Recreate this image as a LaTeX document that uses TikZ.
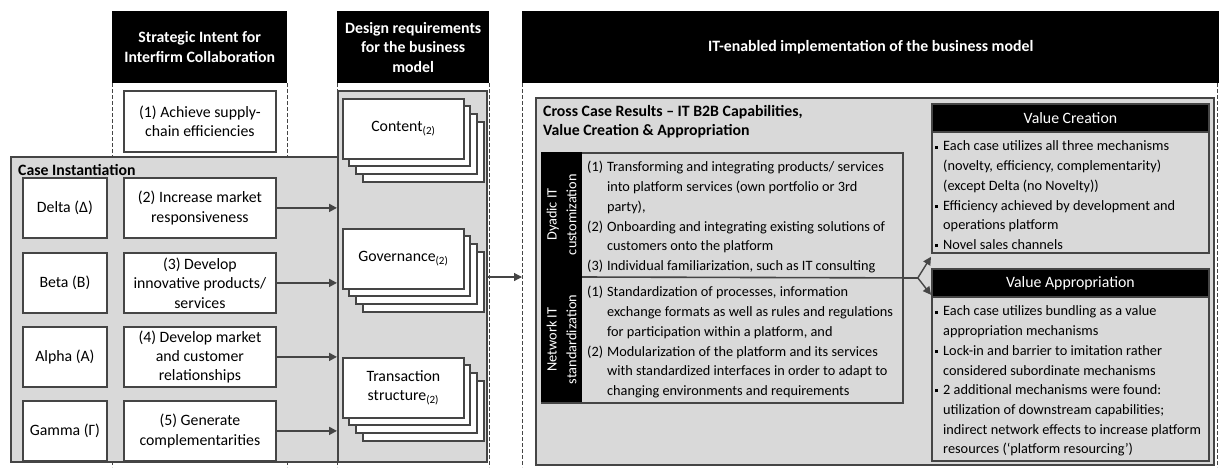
\documentclass[tikz,border=0pt]{standalone}
\usepackage{fontspec}
\setmainfont{Carlito}
\usetikzlibrary{positioning,calc,arrows.meta}

\definecolor{panelgray}{gray}{0.85}
\definecolor{edge}{gray}{0.27}
\newcommand{\bigfont}{\fontsize{15.8}{19.4}\selectfont}
\newcommand{\smallfont}{\fontsize{14.3}{19.7}\selectfont}
\newcommand{\sqbullet}{\rule[0.35ex]{3pt}{3pt}}

\tikzset{head/.style={fill=black, text=white, font=\bigfont\bfseries,
         align=center, inner sep=0pt, anchor=north west},
         panel/.style={draw=edge, line width=1.8pt, fill=panelgray,
         inner sep=0pt, anchor=north west},
         box/.style={draw=edge, line width=1.8pt, fill=white, align=center,
         font=\bigfont, inner sep=0pt, anchor=north west},
         col/.style={draw=edge, line width=1pt, dash pattern=on 4pt off 2pt},
         arr/.style={draw=edge, line width=1.8pt, -{Triangle[length=8pt,width=8pt]}}}

\begin{document}
\begin{tikzpicture}[x=1pt, y=-1pt]
  \useasboundingbox (0,0) rectangle (1219,467);

  % column headers
  \node[head, minimum width=175, minimum height=72] (intentH) at (112,11)
       {Strategic Intent for\\Interfirm Collaboration};
  \node[head, minimum width=152, minimum height=72] (reqH) at (337,11)
       {Design requirements\\for the business\\model};
  \node[head, minimum width=697, minimum height=72] (itH) at (522,11)
       {IT-enabled implementation of the business model};

  % dashed column edges
  \draw[col] (intentH.south west) -- ++(0,384);
  \draw[col] (intentH.south east) -- ++(0,384);
  \draw[col] (reqH.south west) -- ++(0,384);
  \draw[col] (reqH.south east) -- ++(0,384);
  \draw[col] (itH.south west) -- ++(0,384);
  \draw[col] ([xshift=-1.5pt]itH.south east) -- ++(0,384);

  % strategic intent and cases
  \node[box, minimum width=152, minimum height=61] (intent1) at (123,90)
       {(1) Achieve supply-\\chain efficiencies};
  \node[panel, minimum width=327, minimum height=305] (cases) at (10,156) {};
  \node[anchor=base west, inner sep=0pt, font=\bigfont\bfseries] (casesT) at (18,175)
       {Case Instantiation};

  % design requirements
  \node[panel, minimum width=149, minimum height=371] (reqs) at (337,90) {};

  \foreach \n/\case/\intent/\yy in {2/{Delta (Δ)}/{(2) Increase market\\responsiveness}/177,
      3/{Beta (B)}/{(3) Develop\\innovative products/\\services}/252,
      4/{Alpha (A)}/{(4) Develop market\\and customer\\relationships}/326,
      5/{Gamma (Γ)}/{(5) Generate\\complementarities}/400}
  {
    \node[box, minimum width=84, minimum height=60] (case\n) at (22,\yy) {\case};
    \node[box, minimum width=152, minimum height=60] (intent\n) at (123,\yy) {\intent};
    \draw[arr] (intent\n.east) -- (intent\n.east -| reqs.west);
  }

  \foreach \n/\txt/\yy in {content/{Content\textsubscript{(2)}}/98,
      gov/{Governance\textsubscript{(2)}}/228,
      trans/{Transaction\\structure\textsubscript{(2)}}/357}
  {
    \foreach \k in {3,2,1}
      \draw[draw=edge, line width=1.6pt, fill=white] (342+7*\k,\yy+8*\k) rectangle ++(121,60);
    \node[box, minimum width=121, minimum height=60] (\n) at (342,\yy) {\txt};
  }

  \coordinate (itIn) at (522,277);
  \draw[arr, line width=1.2pt] (reqs.east |- itIn) -- (itIn);

  % cross case results
  \node[panel, minimum width=678, minimum height=367] (cross) at (535,97) {};
  \node[anchor=north west, inner sep=0pt, align=left, font=\bigfont\bfseries] (crossT)
       at (543,105) {Cross Case Results -- IT B2B Capabilities,\\Value Creation \& Appropriation};

  \node[panel, minimum width=361, minimum height=250] (caps) at (541,152) {};
  \fill (caps.north west) rectangle ++(41,250);
  \draw[draw=edge, line width=1.6pt] (582,277) -- (caps.east);
  \node[rotate=90, text=white, align=center, font=\smallfont, inner sep=0pt] (dyadL)
       at (561.5,214.5) {Dyadic IT\\customization};
  \node[rotate=90, text=white, align=center, font=\smallfont, inner sep=0pt] (netL)
       at (561.5,339.5) {Network IT\\standardization};

  \node[anchor=north west, inner sep=0pt, font=\smallfont] (dyadT) at (587,158) {%
    \begin{tabular}{@{}l@{\hspace{4pt}}l@{}}
      (1) & Transforming and integrating products/ services\\
          & into platform services (own portfolio or 3rd\\
          & party),\\
      (2) & Onboarding and integrating existing solutions of\\
          & customers onto the platform\\
      (3) & Individual familiarization, such as IT consulting
    \end{tabular}};
  \node[anchor=north west, inner sep=0pt, font=\smallfont] (netT) at (587,283) {%
    \begin{tabular}{@{}l@{\hspace{4pt}}l@{}}
      (1) & Standardization of processes, information\\
          & exchange formats as well as rules and regulations\\
          & for participation within a platform, and\\
      (2) & Modularization of the platform and its services\\
          & with standardized interfaces in order to adapt to\\
          & changing environments and requirements
    \end{tabular}};

  % value creation and appropriation
  \node[panel, minimum width=277, minimum height=149] (vc) at (931,103) {};
  \node[head, font=\bigfont, minimum width=277, minimum height=28, draw=edge,
        line width=1.8pt] (vcH) at (931,103) {Value Creation};
  \node[anchor=north west, inner sep=0pt, font=\smallfont] (vcT) at (935,137) {%
    \begin{tabular}{@{}l@{\hspace{5pt}}l@{}}
      \sqbullet & Each case utilizes all three mechanisms\\
                & (novelty, efficiency, complementarity)\\
                & (except Delta (no Novelty))\\
      \sqbullet & Efficiency achieved by development and\\
                & operations platform\\
      \sqbullet & Novel sales channels
    \end{tabular}};

  \node[panel, minimum width=277, minimum height=192] (va) at (931,268) {};
  \node[head, font=\bigfont, minimum width=277, minimum height=28, draw=edge,
        line width=1.8pt] (vaH) at (931,268) {Value Appropriation};
  \node[anchor=north west, inner sep=0pt, font=\smallfont] (vaT) at (935,302) {%
    \begin{tabular}{@{}l@{\hspace{5pt}}l@{}}
      \sqbullet & Each case utilizes bundling as a value\\
                & appropriation mechanisms\\
      \sqbullet & Lock-in and barrier to imitation rather\\
                & considered subordinate mechanisms\\
      \sqbullet & 2 additional mechanisms were found:\\
                & utilization of downstream capabilities;\\
                & indirect network effects to increase platform\\
                & resources (‘platform resourcing’)
    \end{tabular}};

  \coordinate (fork) at ($(caps.east)+(14,0)$);
  \draw[draw=edge, line width=1.4pt] (caps.east) -- (fork);
  \draw[arr, line width=1.4pt] (fork) -- ([yshift=-3pt]vc.south west);
  \draw[arr, line width=1.4pt] (fork) -- ([yshift=3pt]vaH.south west);
\end{tikzpicture}
\end{document}
